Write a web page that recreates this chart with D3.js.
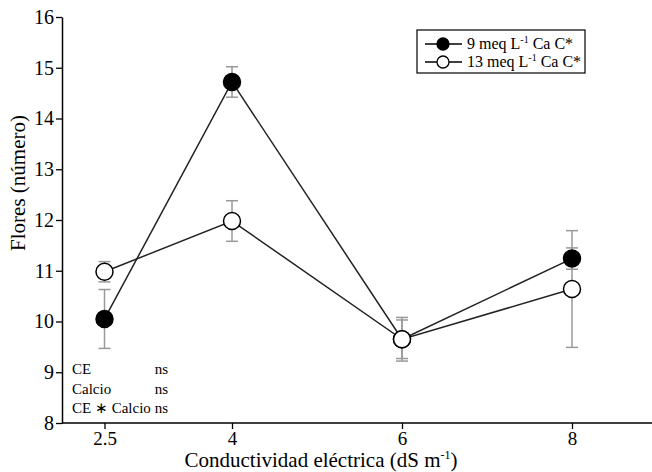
<!DOCTYPE html>
<html>
<head>
<meta charset="utf-8">
<script src="https://cdn.jsdelivr.net/npm/d3@7"></script>
<style>
  body { margin: 0; background: #fff; }
</style>
</head>
<body>
<div id="chart"></div>
<script>
// Flores vs conductividad eléctrica, two calcium levels
const ceLevels = [2.5, 4, 6, 8]
const yTicks = [8, 9, 10, 11, 12, 13, 14, 15, 16]

const ca9 = [10.05, 14.72, 9.65, 11.24]
const ca9Err = [0.58, 0.3, 0.38, 0.21]
const ca13 = [10.98, 11.98, 9.65, 10.64]
const ca13Err = [0.2, 0.4, 0.43, 1.15]

const seriesNames = ["9 meq L", "13 meq L"]
const statRows = [["CE", "ns"], ["Calcio", "ns"], ["CE \u2217 Calcio", "ns"]]

const width = 652
const height = 472
const margin = {top: 17, right: 0, bottom: 49, left: 62}
const serif = '"Liberation Serif", "Times New Roman", serif'

const svg = d3.select("#chart").append("svg")
    .attr("width", width)
    .attr("height", height)

const x = d3.scaleLinear()
    .domain([2, 9.0])
    .range([margin.left, margin.left + 7.0 * 85])

const y = d3.scaleLinear()
    .domain([8, 16])
    .range([height - margin.bottom, margin.top])

// axes
const xAxis = svg.append("g")
    .attr("transform", `translate(0,${y(8)})`)
    .call(d3.axisBottom(x).tickValues(ceLevels).tickSize(6).tickSizeOuter(0).tickFormat(d3.format("")))
xAxis.select(".domain").attr("stroke-width", 1.5).attr("d", `M${margin.left},0H${width}`)
xAxis.selectAll(".tick line").attr("stroke-width", 1.3)
xAxis.selectAll(".tick text").attr("y", 7).attr("dy", "0.78em").attr("fill", "#000")
    .style("font-family", serif).style("font-size", "19px")

const yAxis = svg.append("g")
    .attr("transform", `translate(${margin.left},0)`)
    .call(d3.axisLeft(y).tickValues(yTicks).tickSize(6).tickSizeOuter(0))
yAxis.select(".domain").attr("stroke-width", 1.5)
yAxis.selectAll(".tick line").attr("stroke-width", 1.3)
yAxis.selectAll(".tick text").attr("x", -8).attr("fill", "#000")
    .style("font-family", serif).style("font-size", "20px")

// axis titles
const xt = svg.append("text")
    .attr("x", 321)
    .attr("y", 467)
    .attr("text-anchor", "middle")
    .style("font-family", serif).style("font-size", "21px")
xt.append("tspan").text("Conductividad eléctrica (dS m")
xt.append("tspan").attr("dy", -8).style("font-size", "12px").text("-1")
xt.append("tspan").attr("dy", 8).text(")")

svg.append("text")
    .attr("transform", `translate(25,${183}) rotate(-90)`)
    .attr("text-anchor", "middle")
    .style("font-family", serif).style("font-size", "21px")
    .text("Flores (número)")

// lines, error bars, points
const series = [
  {vals: ca9, err: ca9Err, fill: "#000"},
  {vals: ca13, err: ca13Err, fill: "#fff"}
]

const line = d3.line()
    .x((d, i) => x(ceLevels[i]))
    .y(d => y(d))

series.forEach(s => {
  svg.append("path")
      .datum(s.vals)
      .attr("fill", "none")
      .attr("stroke", "#222")
      .attr("stroke-width", 1.5)
      .attr("d", line)
})

series.forEach(s => {
  const g = svg.append("g").attr("stroke", "#999").attr("stroke-width", 1.5)
  s.vals.forEach((v, i) => {
    const cx = x(ceLevels[i])
    g.append("line").attr("x1", cx).attr("x2", cx).attr("y1", y(v + s.err[i])).attr("y2", y(v - s.err[i]))
    g.append("line").attr("x1", cx - 6).attr("x2", cx + 6).attr("y1", y(v + s.err[i])).attr("y2", y(v + s.err[i]))
    g.append("line").attr("x1", cx - 6).attr("x2", cx + 6).attr("y1", y(v - s.err[i])).attr("y2", y(v - s.err[i]))
  })
})

series.forEach(s => {
  svg.append("g")
    .selectAll("circle")
    .data(s.vals)
    .join("circle")
      .attr("cx", (d, i) => x(ceLevels[i]))
      .attr("cy", d => y(d))
      .attr("r", 8.5)
      .attr("fill", s.fill)
      .attr("stroke", "#000")
      .attr("stroke-width", 1.5)
})

// legend
const legend = svg.append("g").attr("transform", "translate(417,30)")
legend.append("rect")
    .attr("width", 168).attr("height", 43)
    .attr("fill", "#fff").attr("stroke", "#000").attr("stroke-width", 1.2)
seriesNames.forEach((name, i) => {
  const ly = 14 + i * 18
  legend.append("line").attr("x1", 8).attr("x2", 45).attr("y1", ly).attr("y2", ly)
      .attr("stroke", "#000").attr("stroke-width", 1.3)
  legend.append("circle").attr("cx", 26).attr("cy", ly).attr("r", 6)
      .attr("fill", series[i].fill).attr("stroke", "#000").attr("stroke-width", 1.3)
  const t = legend.append("text").attr("x", 50).attr("y", ly + 5)
      .style("font-family", serif).style("font-size", "16px")
  t.append("tspan").text(name)
  t.append("tspan").attr("dy", -6).style("font-size", "10px").text("-1")
  t.append("tspan").attr("dy", 6).text(" Ca C*")
})

// statistics note; "ns" column sits just after the longest label
const statLabels = statRows.map((r, i) =>
  svg.append("text").attr("x", 72).attr("y", 374 + i * 19.5)
      .style("font-family", serif).style("font-size", "15px").text(r[0]))
const nsX = 72 + d3.max(statLabels, t => t.node().getComputedTextLength()) + 4
statRows.forEach((r, i) => {
  svg.append("text").attr("x", nsX).attr("y", 374 + i * 19.5)
      .style("font-family", serif).style("font-size", "15px").text(r[1])
})
</script>
</body>
</html>
